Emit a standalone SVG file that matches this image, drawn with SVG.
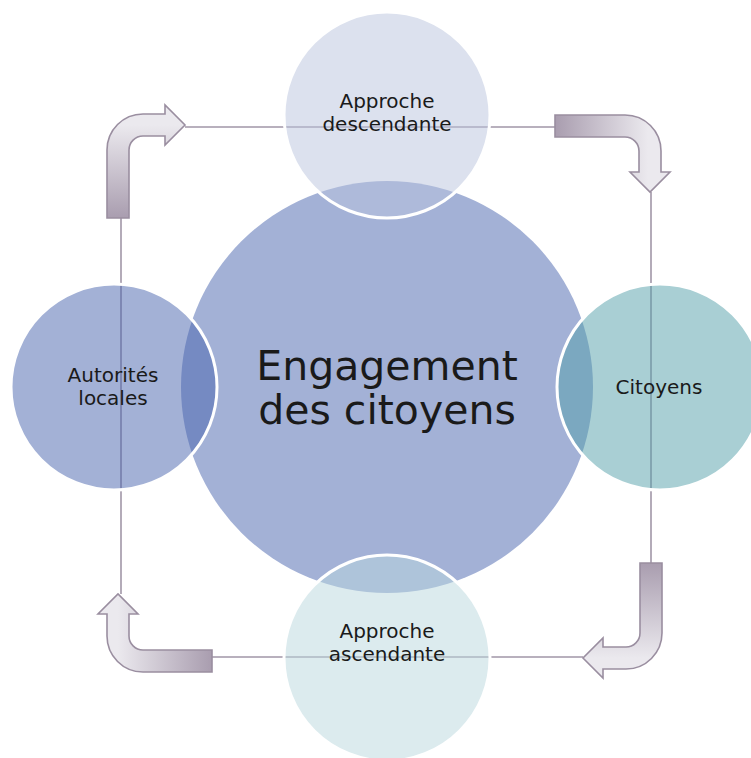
<svg xmlns="http://www.w3.org/2000/svg" width="751" height="758" viewBox="0 0 751 758">
<defs>
<style>
.sat{stroke:#ffffff;stroke-width:3;fill-opacity:0.5}
.con{stroke:#A196A7;stroke-width:1.6;fill:none}
.arr{stroke:#9A8EA0;stroke-width:1.6}
.lbl{font-family:"DejaVu Sans",sans-serif;font-size:20px;fill:#1a1a1a;text-anchor:middle}
.big{font-family:"DejaVu Sans",sans-serif;font-size:41px;fill:#1a1a1a;text-anchor:middle}
</style>
<linearGradient id="gTL" gradientUnits="userSpaceOnUse" x1="0" y1="218" x2="0" y2="125"><stop offset="0" stop-color="#A99DAF"/><stop offset="1" stop-color="#EBE9EE"/></linearGradient>
<linearGradient id="gTR" gradientUnits="userSpaceOnUse" x1="555" y1="0" x2="648" y2="0"><stop offset="0" stop-color="#A99DAF"/><stop offset="1" stop-color="#EBE9EE"/></linearGradient>
<linearGradient id="gBR" gradientUnits="userSpaceOnUse" x1="0" y1="563" x2="0" y2="658"><stop offset="0" stop-color="#A99DAF"/><stop offset="1" stop-color="#EBE9EE"/></linearGradient>
<linearGradient id="gBL" gradientUnits="userSpaceOnUse" x1="212" y1="0" x2="118" y2="0"><stop offset="0" stop-color="#A99DAF"/><stop offset="1" stop-color="#EBE9EE"/></linearGradient>
</defs>
<rect width="751" height="758" fill="#ffffff"/>
<g id="center">
<circle cx="387" cy="387" r="206" fill="#A3B1D6"/>
</g>
<g id="connectors">
<line class="con" x1="185" y1="127" x2="555" y2="127"/>
<line class="con" x1="651" y1="192" x2="651" y2="563"/>
<line class="con" x1="212" y1="657" x2="583" y2="657"/>
<line class="con" x1="121" y1="218" x2="121" y2="594"/>
<path class="arr" fill="url(#gTL)" d="M107,218 V150 A36,36 0 0 1 143,114 H165 V105 L185,125 L165,145 V136 H143 A14,14 0 0 0 129,150 V218 Z"/>
<path class="arr" fill="url(#gTR)" d="M555,115 H625 A36,36 0 0 1 661,151 V172 H670 L650,192 L630,172 H639 V151 A14,14 0 0 0 625,137 H555 Z"/>
<path class="arr" fill="url(#gBR)" d="M640,563 H662 V633 A36,36 0 0 1 626,669 H603 V678 L583,658 L603,638 V647 H626 A14,14 0 0 0 640,633 V563 Z"/>
<path class="arr" fill="url(#gBL)" d="M212,650 V672 H143 A36,36 0 0 1 107,636 V614 H98 L118,594 L138,614 H129 V636 A14,14 0 0 0 143,650 Z"/>
</g>
<g id="top">
<circle class="sat" cx="387" cy="115" r="103" fill="#BAC4DE"/>
<text class="lbl" x="387" y="108">Approche</text>
<text class="lbl" x="387" y="131">descendante</text>
</g>
<g id="right">
<circle class="sat" cx="660" cy="387" r="103" fill="#539FA9"/>
<text class="lbl" x="659" y="394">Citoyens</text>
</g>
<g id="bottom">
<circle class="sat" cx="387" cy="658" r="103" fill="#B9D7DD"/>
<text class="lbl" x="387" y="638">Approche</text>
<text class="lbl" x="387" y="661">ascendante</text>
</g>
<g id="left">
<circle class="sat" cx="114" cy="387" r="103" fill="#4763AD"/>
<text class="lbl" x="113" y="382">Autorités</text>
<text class="lbl" x="113" y="405">locales</text>
</g>
<g id="title">
<text class="big" x="387" y="380">Engagement</text>
<text class="big" x="387" y="424">des citoyens</text>
</g>
</svg>
